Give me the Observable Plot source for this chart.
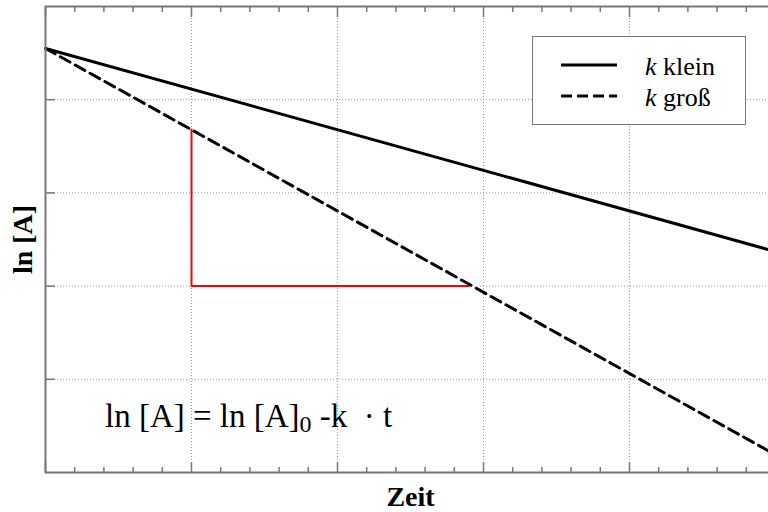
<!DOCTYPE html>
<html>
<head>
<meta charset="utf-8">
<script src="https://cdn.jsdelivr.net/npm/d3@7"></script>
<script src="https://cdn.jsdelivr.net/npm/@observablehq/plot@0.6"></script>
<style>
  html, body { margin: 0; padding: 0; background: #fff; overflow: hidden; width: 768px; height: 512px; }
  #wrap { position: relative; width: 768px; height: 512px; overflow: hidden; }
  #wrap > svg { position: absolute; left: 0; top: 0; max-width: none !important; width: 790px; height: 512px; }
  .serif, .serif * { font-family: "Liberation Serif", "Times New Roman", serif; color: #000; }
  #formula { position: absolute; left: 105px; top: 399px; font-size: 33px; line-height: 34px; white-space: nowrap; }
  #formula sub { font-size: 24px; vertical-align: -5px; line-height: 0; }
  #legend { position: absolute; left: 532px; top: 36px; width: 212px; height: 87px; border: 1.5px solid #777; background: #fff; }
  #legend .row { position: absolute; left: 0; width: 212px; height: 30px; }
  #legend svg { position: absolute; left: 28px; top: 0; }
  #legend .lab { position: absolute; left: 112px; font-size: 26px; line-height: 26px; white-space: nowrap; }
</style>
</head>
<body>
<div id="wrap"></div>
<script>
// ---- data ----
const timeValues = [0, 5];                 // Zeit (x)
const lnA_kKlein = [4.55, 2.37];           // ln [A], k klein (solid)
const lnA_kGross = [4.55, 0.19];           // ln [A], k groß (dashed)
const triangleT = [1, 1, 2.9];             // red slope triangle, x
const triangleLnA = [3.68, 2, 2];          // red slope triangle, y
const majorTicksX = [0, 1, 2, 3, 4, 5];
const minorTicksX = [0.2, 0.4, 0.6, 0.8, 1.2, 1.4, 1.6, 1.8, 2.2, 2.4, 2.6, 2.8, 3.2, 3.4, 3.6, 3.8, 4.2, 4.4, 4.6, 4.8];
const majorTicksY = [1, 2, 3, 4];
const gridX = [1, 2, 3, 4];
const gridY = [1, 2, 3, 4];
const seriesNames = ["k klein", "k groß"];
const xTitle = "Zeit";
const yTitle = "ln [A]";

const solid = timeValues.map((t, i) => ({t, v: lnA_kKlein[i], s: seriesNames[0]}));
const dashed = timeValues.map((t, i) => ({t, v: lnA_kGross[i], s: seriesNames[1]}));
const tri = triangleT.map((t, i) => ({t, v: triangleLnA[i]}));

const axisGray = "#777";
const font = "'Liberation Serif', 'Times New Roman', serif";

const chart = Plot.plot({
  width: 790,
  height: 512,
  marginLeft: 45,
  marginRight: 15,
  marginTop: 6,
  marginBottom: 40,
  style: {fontFamily: font, background: "transparent", overflow: "visible", maxWidth: "none"},
  x: {domain: [0, 5], axis: null},
  y: {domain: [0, 5], axis: null},
  marks: [
    Plot.gridX(gridX, {stroke: "#999", strokeOpacity: 1, strokeDasharray: "1,2", strokeWidth: 1}),
    Plot.gridY(gridY, {stroke: "#999", strokeOpacity: 1, strokeDasharray: "1,2", strokeWidth: 1}),
    Plot.line(tri, {x: "t", y: "v", stroke: "#ff0000", strokeWidth: 2}),
    Plot.line(solid, {x: "t", y: "v", stroke: "#000", strokeWidth: 3}),
    Plot.line(dashed, {x: "t", y: "v", stroke: "#000", strokeWidth: 3, strokeDasharray: "11,6"}),
    Plot.axisX(majorTicksX, {anchor: "bottom", tickSize: -10, tickFormat: () => "", label: null, stroke: axisGray, strokeWidth: 1.5}),
    Plot.axisX(minorTicksX, {anchor: "bottom", tickSize: -5, tickFormat: () => "", label: null, stroke: axisGray, strokeWidth: 1.5}),
    Plot.axisX(majorTicksX, {anchor: "top", tickSize: -10, tickFormat: () => "", label: null, stroke: axisGray, strokeWidth: 1.5}),
    Plot.axisX(minorTicksX, {anchor: "top", tickSize: -5, tickFormat: () => "", label: null, stroke: axisGray, strokeWidth: 1.5}),
    Plot.axisY(majorTicksY, {anchor: "left", tickSize: -10, tickFormat: () => "", label: null, stroke: axisGray, strokeWidth: 1.5}),
    Plot.frame({stroke: axisGray, strokeWidth: 2}),
    Plot.text([xTitle], {frameAnchor: "bottom", textAnchor: "middle", lineAnchor: "middle", dy: 25, fontSize: 28, fontWeight: "bold", fill: "#000", fontFamily: font}),
    Plot.text([yTitle], {frameAnchor: "left", textAnchor: "middle", lineAnchor: "middle", dx: -22, rotate: -90, fontSize: 28, fontWeight: "bold", fill: "#000", fontFamily: font})
  ]
});

const wrap = document.getElementById("wrap");
wrap.appendChild(chart);

// formula annotation
const f = document.createElement("div");
f.id = "formula";
f.className = "serif";
f.innerHTML = "ln [A] = ln [A]<sub>0</sub> -k&nbsp;&nbsp;·&nbsp;t";
wrap.appendChild(f);

// legend
const lg = document.createElement("div");
lg.id = "legend";
lg.className = "serif";
const rows = [
  {name: seriesNames[0], dash: null, top: 13},
  {name: seriesNames[1], dash: "11,5", top: 44}
];
rows.forEach(r => {
  const row = document.createElement("div");
  row.className = "row";
  row.style.top = r.top + "px";
  const ns = "http://www.w3.org/2000/svg";
  const s = document.createElementNS(ns, "svg");
  s.setAttribute("width", 60); s.setAttribute("height", 30);
  const l = document.createElementNS(ns, "line");
  l.setAttribute("x1", 0); l.setAttribute("x2", 56);
  l.setAttribute("y1", 15); l.setAttribute("y2", 15);
  l.setAttribute("stroke", "#000"); l.setAttribute("stroke-width", 3);
  if (r.dash) l.setAttribute("stroke-dasharray", r.dash);
  s.appendChild(l);
  row.appendChild(s);
  const t = document.createElement("div");
  t.className = "lab";
  t.style.top = "4px";
  const parts = r.name.split(" ");
  t.innerHTML = "<i>" + parts[0] + "</i> " + parts.slice(1).join(" ");
  row.appendChild(t);
  lg.appendChild(row);
});
wrap.appendChild(lg);
</script>
</body>
</html>
